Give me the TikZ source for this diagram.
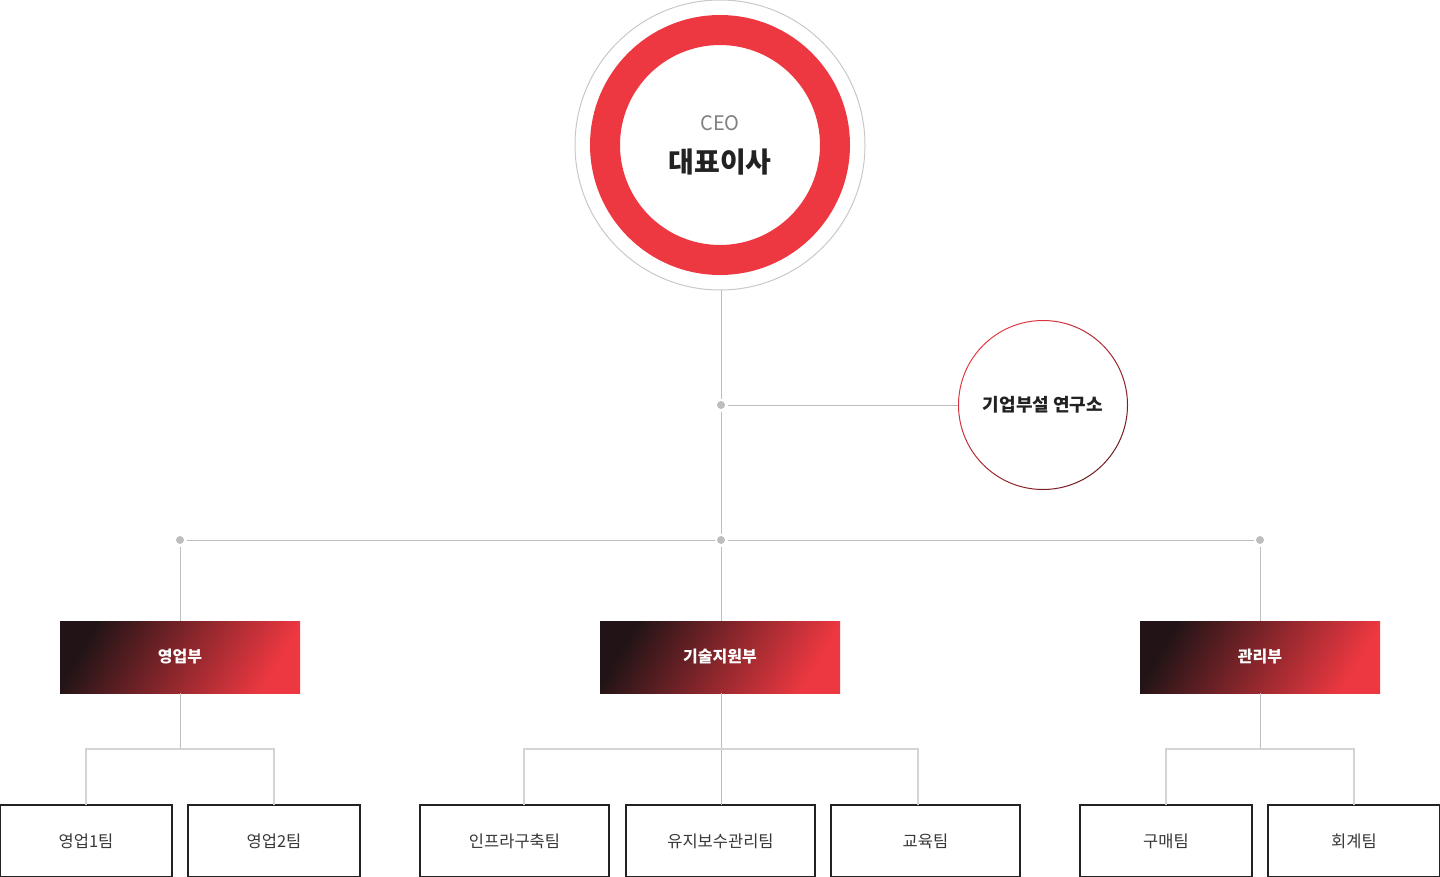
\documentclass[tikz,border=0pt]{standalone}
\usepackage{fontspec}
\setmainfont{Noto Sans CJK KR}
\usepackage{tikz}
\usetikzlibrary{positioning}

\definecolor{ceored}{HTML}{EE3841}
\definecolor{rimgray}{HTML}{C8C8C8}
\definecolor{linegray}{HTML}{BDBDBD}
\definecolor{forkgray}{HTML}{D4D4D4}
\definecolor{deptdark}{HTML}{221416}
\definecolor{labred}{HTML}{E63A44}
\definecolor{labdark}{HTML}{6E1A1E}
\definecolor{inktext}{HTML}{222222}

\begin{document}
\begin{tikzpicture}[x=1pt, y=-1pt]
    % Default looks for the chart
    \tikzstyle{conn}=[draw=linegray, line width=1pt];
    \tikzstyle{fork}=[draw=forkgray, line width=1.4pt];
    \tikzstyle{hubdot}=[circle, fill=linegray, minimum size=8pt, inner sep=0pt, outer sep=2.5pt];
    \tikzstyle{dept}=[rectangle, minimum width=240pt, minimum height=72pt, inner sep=0pt, outer sep=0pt,
        left color=deptdark, right color=ceored, shading angle=60,
        text=white, font=\fontsize{16}{16}\selectfont\bfseries];
    \tikzstyle{team}=[rectangle, draw=inktext, line width=1.5pt, minimum height=72pt, inner sep=0pt, outer sep=0pt,
        text=inktext!90, font=\fontsize{16.5}{16.5}\selectfont];
    \useasboundingbox (0,0) rectangle (1440,877);

    % CEO circle
    \node (ceo) [circle, draw=rimgray, line width=1pt, minimum size=290pt] at (720,145) {};
    \node (ceoring) [circle, draw=ceored, line width=30pt, minimum size=230pt] at (ceo) {};
    \node (ceotitle) [text=gray, font=\fontsize{20}{20}\selectfont] at (720,123) {CEO};
    \node (ceoname) [text=inktext, font=\fontsize{28}{28}\selectfont\bfseries] at (720,162) {대표이사};

    % Research lab circle
    \node (lab) [circle, minimum size=170pt, text=inktext, font=\fontsize{18}{18}\selectfont\bfseries] at (1043,405) {기업부설 연구소};
    \shade [even odd rule, left color=labred, right color=labdark, shading angle=45]
        (lab.center) circle (85) circle (84);

    % Hubs
    \node [hubdot] (hlab) at (721,405) {};
    \node [hubdot] (hmid) at (721,540) {};
    \node [hubdot] (hleft) at (180,540) {};
    \node [hubdot] (hright) at (1260,540) {};

    % Departments
    \node [dept] (sales) at (180,657) {영업부};
    \node [dept] (tech) [right=300pt of sales] {기술지원부};
    \node [dept] (admin) [right=300pt of tech] {관리부};

    % Teams
    \node [team, minimum width=172pt] (sales1) at (86,841) {영업1팀};
    \node [team, minimum width=172pt] (sales2) [right=16pt of sales1] {영업2팀};
    \node [team, minimum width=189pt] (infra) at (514.5,841) {인프라구축팀};
    \node [team, minimum width=189pt] (maint) [right=17pt of infra] {유지보수관리팀};
    \node [team, minimum width=189pt] (edu) [right=16pt of maint] {교육팀};
    \node [team, minimum width=172pt] (buy) at (1166,841) {구매팀};
    \node [team, minimum width=172pt] (acct) [right=16pt of buy] {회계팀};

    % Fork points
    \coordinate (salesfork) at (180,749);
    \coordinate (techfork) at (721,749);
    \coordinate (adminfork) at (1260,749);

    % Draw main connectors
    \path [conn] (hlab |- ceo.south) -- (hlab) (hlab) -- (hmid) (hlab) -- (lab.west)
        (hleft) -- (hmid) (hmid) -- (hright)
        (hleft) -- (hleft |- sales.north) (hmid) -- (hmid |- tech.north) (hright) -- (hright |- admin.north)
        (salesfork |- sales.south) -- (salesfork) (techfork |- tech.south) -- (techfork |- maint.north)
        (adminfork |- admin.south) -- (adminfork);

    % Draw team forks
    \path [fork] (salesfork) -| (sales1.north) (salesfork) -| (sales2.north)
        (techfork) -| ([xshift=9.5pt]infra.north) (techfork) -| ([xshift=-7.5pt]edu.north)
        (adminfork) -| (buy.north) (adminfork) -| (acct.north);
\end{tikzpicture}
\end{document}
